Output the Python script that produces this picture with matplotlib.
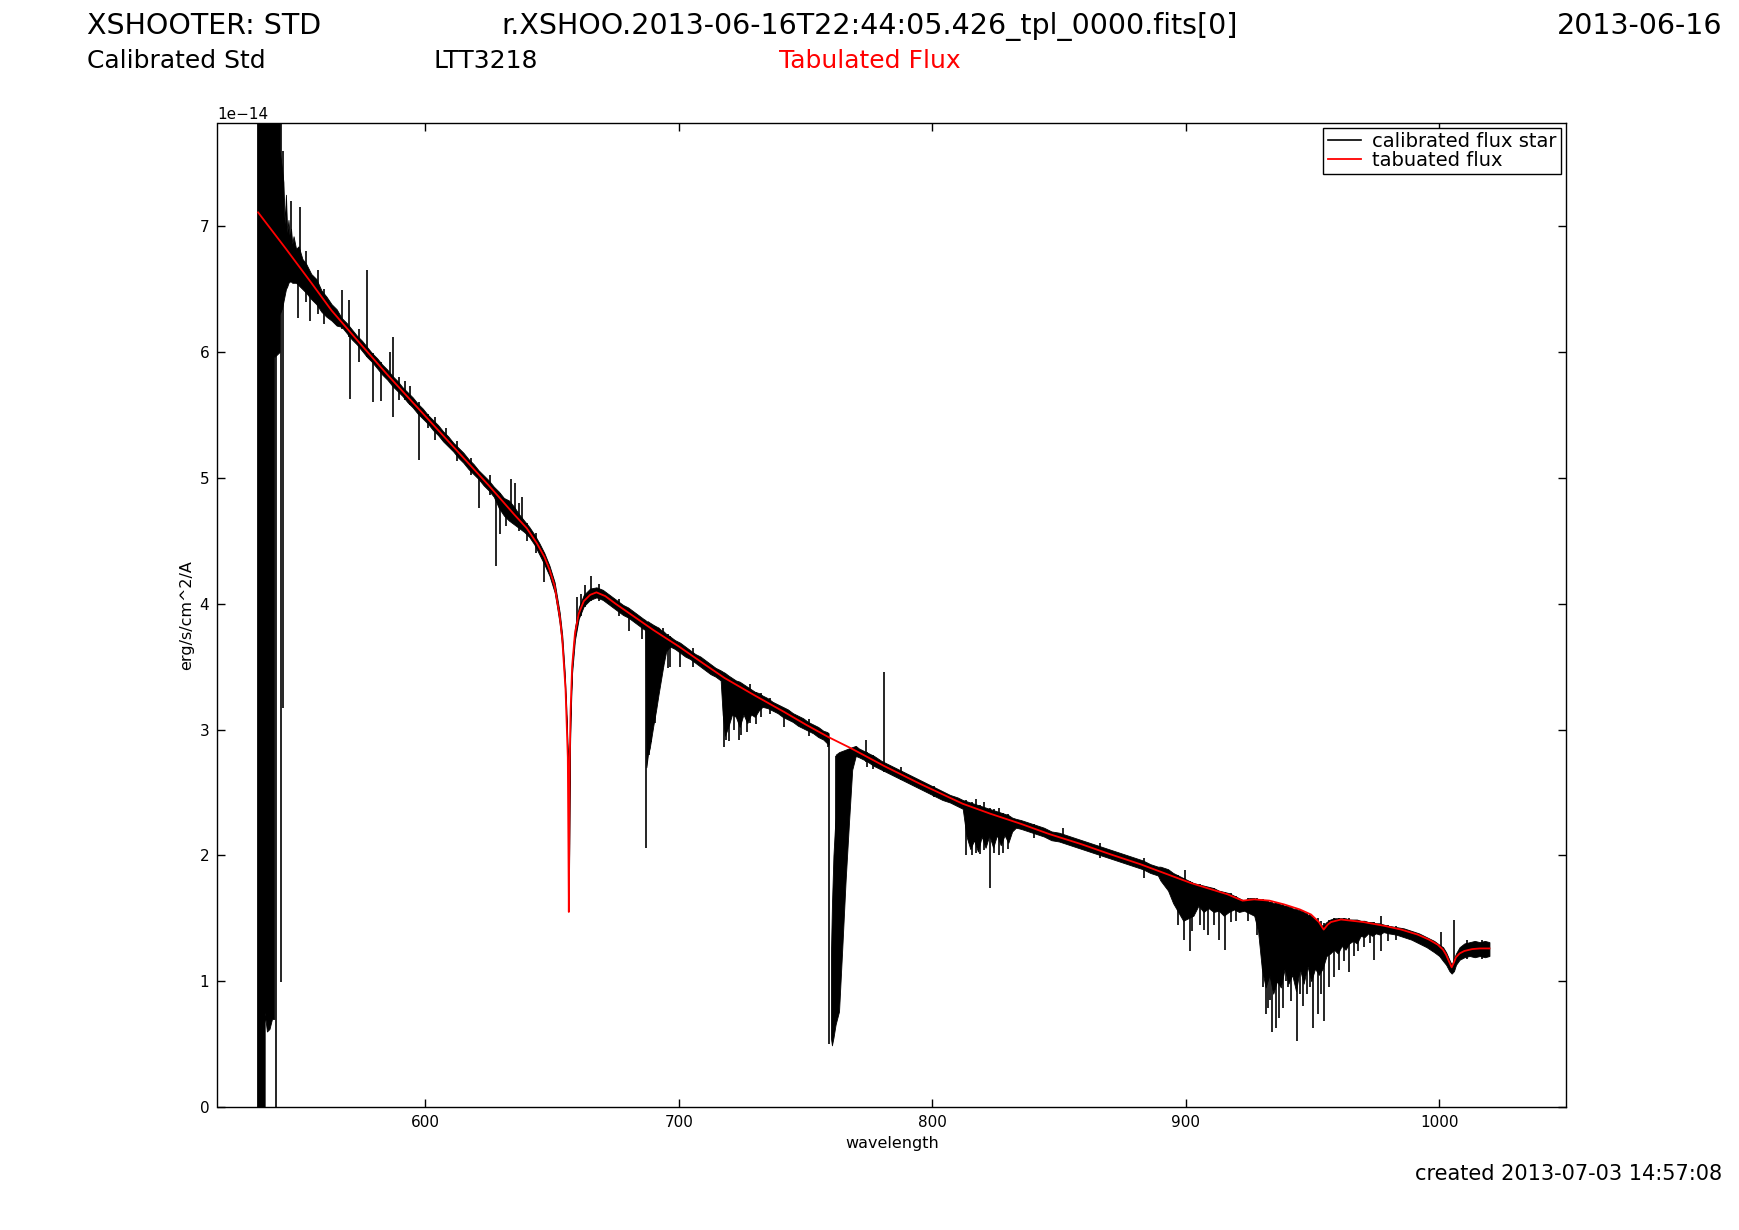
import numpy as np
import matplotlib
matplotlib.use('Agg')
import matplotlib.pyplot as plt
from matplotlib.ticker import MultipleLocator

# flux values are in units of 1e-14 erg/s/cm^2/A
SCALE = 1e-14

# tabulated (reference) flux of LTT3218
tab_wl = [534.0, 545, 555, 563, 575, 585, 600, 615, 625, 635,
          640, 644, 647, 649, 651, 652.0, 653.0, 654.0, 655.3, 656.2,
          656.45, 656.6, 656.75, 656.95, 657.3, 657.9, 659.0, 660.5, 662.5, 665.0,
          667.5, 671, 675, 680, 685, 690, 700, 710, 718, 730,
          741.5, 750, 759, 768, 781, 795, 812, 823, 835, 846,
          858.6, 870, 882, 890, 898, 902, 910, 916.5, 922.4, 927,
          933, 938.8, 945, 949.4, 952.5, 954.4, 956, 957.3, 961.2, 970,
          978.3, 985, 991.5, 996, 999.4, 1001.5, 1002.7, 1004, 1004.9, 1005.8,
          1006.6, 1008, 1009.9, 1013, 1016, 1019.8]
tab_flux = [7.11, 6.82, 6.55, 6.33, 6.05, 5.82, 5.49, 5.16, 4.94, 4.71,
            4.60, 4.48, 4.37, 4.27, 4.14, 4.02, 3.90, 3.72, 3.32, 2.78,
            2.05, 1.55, 2.05, 2.75, 3.15, 3.50, 3.76, 3.92, 4.02, 4.07,
            4.09, 4.06, 4.00, 3.93, 3.86, 3.79, 3.66, 3.52, 3.41, 3.27,
            3.14, 3.04, 2.94, 2.85, 2.71, 2.57, 2.41, 2.33, 2.25, 2.17,
            2.09, 2.01, 1.93, 1.87, 1.81, 1.78, 1.73, 1.69, 1.64, 1.65,
            1.64, 1.61, 1.57, 1.53, 1.47, 1.41, 1.45, 1.47, 1.49, 1.47,
            1.44, 1.41, 1.37, 1.33, 1.29, 1.25, 1.21, 1.15, 1.11, 1.15,
            1.19, 1.22, 1.24, 1.255, 1.26, 1.26]

# calibrated star spectrum: noise envelope (wavelength, low, high)
band_blue = [
    (533.6, -0.5, 9.0), (536.6, -0.5, 9.0), (536.62, 0.75, 9.0), (537.5, 0.60, 9.0),
    (538.5, 0.62, 9.0), (539.5, 0.70, 9.0), (540.4, 0.70, 9.0), (540.42, 5.96, 9.0),
    (542.5, 6.00, 9.0), (542.52, 6.30, 7.60), (543.5, 6.35, 7.45), (544.0, 6.40, 7.35),
    (544.5, 6.45, 7.02), (545.0, 6.50, 7.25), (545.5, 6.52, 6.95), (546.0, 6.55, 7.05),
    (546.5, 6.56, 6.90), (547.0, 6.56, 6.98), (547.5, 6.55, 6.86), (548.0, 6.55, 6.92),
    (549.0, 6.55, 6.82), (550.0, 6.53, 6.84), (551.5, 6.50, 6.74), (553.0, 6.47, 6.70),
    (555.0, 6.42, 6.62), (557.0, 6.38, 6.58), (559.0, 6.32, 6.49), (561.0, 6.28, 6.44),
    (563.0, 6.25, 6.38), (565.0, 6.21, 6.34), (567.0, 6.20, 6.27), (569.0, 6.15, 6.23),
    (571.0, 6.10, 6.18), (573.0, 6.06, 6.13), (575.0, 6.01, 6.09), (577.0, 5.96, 6.04),
    (579.0, 5.92, 5.99), (581.0, 5.87, 5.95), (583.0, 5.82, 5.90), (585.0, 5.78, 5.86),
    (587.0, 5.73, 5.81), (589.0, 5.69, 5.77), (591.0, 5.65, 5.72), (593.0, 5.60, 5.68),
    (595.0, 5.56, 5.64), (597.0, 5.51, 5.59), (599.0, 5.47, 5.55), (601.0, 5.43, 5.50),
    (603.0, 5.38, 5.46), (605.0, 5.34, 5.42), (607.0, 5.29, 5.37), (609.0, 5.25, 5.33),
    (611.0, 5.21, 5.28), (613.0, 5.16, 5.24), (615.0, 5.12, 5.20), (617.0, 5.07, 5.15),
    (619.0, 5.03, 5.11), (621.0, 4.99, 5.06), (623.0, 4.94, 5.02), (625.0, 4.90, 4.98),
    (627.0, 4.85, 4.93), (629.0, 4.76, 4.89), (631.0, 4.70, 4.84), (633.0, 4.66, 4.82),
    (635.0, 4.63, 4.77), (637.0, 4.60, 4.71), (639.0, 4.57, 4.66), (641.0, 4.53, 4.61),
    (643.0, 4.47, 4.55), (645.0, 4.39, 4.48), (647.0, 4.31, 4.40), (649.0, 4.22, 4.30),
    (651.0, 4.09, 4.17), (652.0, 3.97, 4.05), (653.0, 3.84, 3.93), (654.0, 3.66, 3.75),
    (655.0, 3.36, 3.45), (655.6, 3.09, 3.18), (656.2, 2.73, 2.82), (656.45, 2.02, 2.10),
    (656.6, 1.58, 1.68), (656.75, 2.02, 2.10), (656.95, 2.71, 2.80), (657.3, 3.10, 3.20),
    (657.9, 3.45, 3.54), (659.0, 3.71, 3.81), (660.5, 3.88, 3.97), (662.5, 3.98, 4.07),
    (665.0, 4.03, 4.12), (667.5, 4.05, 4.13), (670.0, 4.03, 4.11), (672.0, 4.00, 4.08),
    (674.0, 3.97, 4.05), (676.0, 3.94, 4.02), (678.0, 3.91, 3.99), (680.0, 3.89, 3.97),
    (682.0, 3.86, 3.94), (684.0, 3.83, 3.91), (686.0, 3.80, 3.88), (686.8, 3.79, 3.87),
    (687.2, 2.70, 3.86), (687.8, 2.80, 3.86), (688.5, 2.85, 3.85), (689.3, 2.95, 3.84),
    (690.1, 3.05, 3.83), (691.0, 3.15, 3.82), (692.0, 3.28, 3.81), (693.0, 3.40, 3.79),
    (694.0, 3.52, 3.78), (695.0, 3.62, 3.76), (696.5, 3.66, 3.74), (698.5, 3.64, 3.71),
    (700.5, 3.61, 3.69), (702.5, 3.58, 3.66), (704.5, 3.56, 3.63), (706.5, 3.53, 3.60),
    (708.5, 3.50, 3.58), (710.5, 3.47, 3.55), (712.5, 3.44, 3.52), (714.5, 3.42, 3.49),
    (716.5, 3.39, 3.47), (717.3, 3.12, 3.46), (718.2, 2.95, 3.45), (719.5, 3.02, 3.43),
    (721.0, 3.12, 3.41), (722.5, 3.10, 3.39), (724.0, 3.02, 3.38), (725.5, 3.12, 3.36),
    (727.0, 3.05, 3.34), (728.5, 3.12, 3.32), (730.0, 3.10, 3.30), (731.5, 3.15, 3.29),
    (733.0, 3.18, 3.27), (735.0, 3.17, 3.25), (737.0, 3.15, 3.22), (739.0, 3.13, 3.20),
    (741.0, 3.10, 3.18), (743.0, 3.08, 3.16), (745.0, 3.06, 3.13), (747.0, 3.03, 3.11),
    (749.0, 3.01, 3.09), (751.0, 2.99, 3.06), (753.0, 2.97, 3.04), (755.0, 2.94, 3.02),
    (757.0, 2.92, 2.99), (758.5, 2.89, 2.98), (759.1, 2.88, 2.97),
]

band_red = [
    (760.0, 0.55, 1.20), (760.4, 0.49, 1.60), (761.0, 0.55, 2.00), (761.8, 0.65, 2.30),
    (761.9, 0.66, 2.80), (763.2, 0.76, 2.82), (764.5, 1.27, 2.83), (765.8, 1.80, 2.84),
    (767.1, 2.25, 2.85), (768.4, 2.68, 2.86), (769.8, 2.79, 2.87), (771.0, 2.78, 2.85),
    (774.0, 2.75, 2.82), (777.0, 2.71, 2.79), (780.0, 2.68, 2.75), (783.0, 2.65, 2.72),
    (786.0, 2.62, 2.69), (789.0, 2.59, 2.66), (792.0, 2.56, 2.63), (795.0, 2.53, 2.60),
    (798.0, 2.50, 2.57), (801.0, 2.47, 2.54), (804.0, 2.44, 2.51), (807.0, 2.42, 2.48),
    (810.0, 2.39, 2.46), (812.0, 2.37, 2.44), (813.5, 2.15, 2.43), (815.0, 2.05, 2.42),
    (816.5, 2.12, 2.41), (818.0, 2.03, 2.40), (819.5, 2.15, 2.39), (821.0, 2.06, 2.38),
    (822.5, 2.16, 2.37), (824.0, 2.06, 2.36), (825.5, 2.16, 2.35), (827.0, 2.08, 2.34),
    (828.5, 2.16, 2.33), (830.0, 2.10, 2.32), (831.5, 2.19, 2.30), (833.0, 2.22, 2.29),
    (835.0, 2.21, 2.28), (838.0, 2.19, 2.26), (841.0, 2.17, 2.24), (844.0, 2.15, 2.22),
    (847.0, 2.12, 2.19), (850.0, 2.11, 2.18), (853.0, 2.09, 2.16), (856.0, 2.07, 2.14),
    (859.0, 2.05, 2.12), (862.0, 2.03, 2.10), (865.0, 2.01, 2.08), (868.0, 1.99, 2.06),
    (871.0, 1.97, 2.04), (874.0, 1.95, 2.02), (877.0, 1.93, 2.00), (880.0, 1.91, 1.98),
    (883.0, 1.89, 1.96), (886.0, 1.86, 1.93), (889.0, 1.84, 1.91), (890.0, 1.80, 1.91),
    (893.0, 1.72, 1.89), (895.0, 1.62, 1.86), (897.0, 1.55, 1.84), (899.0, 1.48, 1.82),
    (901.0, 1.50, 1.80), (903.0, 1.52, 1.78), (905.0, 1.60, 1.77), (907.0, 1.55, 1.76),
    (909.0, 1.58, 1.75), (911.0, 1.55, 1.74), (913.0, 1.56, 1.72), (915.0, 1.52, 1.71),
    (917.0, 1.55, 1.70), (919.0, 1.57, 1.68), (921.0, 1.55, 1.66), (923.0, 1.56, 1.64),
    (925.0, 1.54, 1.66), (927.0, 1.52, 1.66), (928.5, 1.40, 1.65), (930.0, 1.10, 1.65),
    (931.5, 0.95, 1.64), (933.0, 1.05, 1.63), (934.5, 0.90, 1.62), (936.0, 1.00, 1.62),
    (937.5, 0.95, 1.61), (939.0, 1.10, 1.60), (940.5, 0.98, 1.59), (942.0, 1.05, 1.58),
    (943.5, 0.92, 1.57), (945.0, 1.10, 1.56), (946.5, 0.98, 1.55), (948.0, 1.12, 1.53),
    (949.5, 1.00, 1.52), (951.0, 1.10, 1.50), (952.5, 1.05, 1.46), (954.0, 1.10, 1.44),
    (955.5, 1.20, 1.47), (957.0, 1.22, 1.49), (958.5, 1.25, 1.50), (960.0, 1.22, 1.50),
    (961.5, 1.28, 1.50), (963.0, 1.25, 1.50), (964.5, 1.30, 1.49), (966.0, 1.32, 1.49),
    (967.5, 1.30, 1.49), (969.0, 1.36, 1.48), (970.5, 1.35, 1.48), (972.0, 1.38, 1.47),
    (973.5, 1.36, 1.47), (975.0, 1.38, 1.46), (976.5, 1.37, 1.46), (978.0, 1.39, 1.45),
    (980.0, 1.38, 1.44), (983.0, 1.37, 1.43), (986.0, 1.35, 1.42), (989.0, 1.33, 1.40),
    (992.0, 1.30, 1.38), (995.0, 1.27, 1.35), (998.0, 1.23, 1.32), (1000.0, 1.20, 1.29),
    (1001.5, 1.16, 1.27), (1002.7, 1.13, 1.23), (1004.0, 1.08, 1.17), (1004.9, 1.06, 1.13),
    (1005.8, 1.08, 1.18), (1006.6, 1.13, 1.22), (1008.0, 1.17, 1.27), (1009.9, 1.19, 1.30),
    (1012.0, 1.20, 1.31), (1014.0, 1.19, 1.32), (1016.0, 1.20, 1.31), (1018.0, 1.19, 1.32),
    (1019.8, 1.20, 1.31),
]

# single spikes / absorption lines (wavelength, low, high)
spikes = [
    (541.0, -0.5, 9.0), (543.1, 0.99, 9.0), (543.8, 3.17, 7.60), (546.8, 6.60, 7.20),
    (549.7, 6.27, 6.75), (550.4, 6.60, 7.15), (552.8, 6.40, 6.80), (554.6, 6.25, 6.62),
    (557.5, 6.30, 6.65), (560.2, 6.22, 6.50), (567.1, 6.18, 6.49), (569.7, 6.12, 6.41),
    (570.4, 5.63, 6.18), (574.0, 5.92, 6.18), (577.0, 5.96, 6.65), (579.4, 5.60, 5.99),
    (582.5, 5.61, 5.92), (585.9, 5.80, 6.00), (587.3, 5.48, 6.12), (589.8, 5.62, 5.80),
    (592.1, 5.62, 5.77), (594.1, 5.58, 5.73), (597.4, 5.14, 5.60), (601.1, 5.40, 5.51),
    (604.0, 5.30, 5.48), (608.3, 5.28, 5.40), (612.5, 5.13, 5.29), (618.0, 5.02, 5.16),
    (621.0, 4.76, 5.05), (625.5, 4.86, 5.02), (628.0, 4.30, 4.88), (629.6, 4.55, 4.88),
    (632.0, 4.62, 4.82), (633.6, 4.70, 4.99), (635.4, 4.65, 4.96), (636.8, 4.58, 4.80),
    (638.3, 4.60, 4.85), (640.2, 4.50, 4.64), (643.5, 4.40, 4.56), (646.9, 4.17, 4.40),
    (659.8, 3.80, 4.05), (661.5, 3.90, 4.08), (663.0, 3.97, 4.15), (665.3, 4.02, 4.22),
    (668.5, 4.02, 4.16), (676.5, 3.90, 4.04), (680.2, 3.78, 3.96), (685.5, 3.72, 3.88),
    (686.9, 2.06, 3.83), (688.1, 2.80, 3.85), (689.0, 2.90, 3.84), (690.6, 3.05, 3.82),
    (693.8, 3.50, 3.81), (695.8, 3.49, 3.76), (696.6, 3.50, 3.74),
    (700.4, 3.50, 3.68), (705.5, 3.50, 3.65), (717.8, 2.86, 3.42), (718.6, 2.92, 3.41),
    (719.7, 2.91, 3.40), (721.8, 3.00, 3.38), (723.7, 2.92, 3.37), (724.4, 2.96, 3.36),
    (727.0, 2.98, 3.34), (728.0, 3.05, 3.36), (730.3, 3.04, 3.30), (732.5, 3.10, 3.29),
    (736.0, 3.12, 3.25), (741.5, 3.02, 3.16), (751.5, 2.95, 3.08), (758.9, 2.86, 2.97),
    (759.4, 0.50, 2.93), (761.9, 0.70, 2.79), (773.8, 2.74, 2.92), (774.3, 2.70, 2.82),
    (776.5, 2.69, 2.80), (781.0, 2.66, 3.46), (787.5, 2.60, 2.70), (800.5, 2.46, 2.55),
    (813.3, 2.00, 2.44), (815.5, 2.00, 2.42), (817.2, 2.02, 2.45), (819.0, 2.01, 2.40),
    (820.5, 2.04, 2.42), (822.8, 1.74, 2.38), (824.5, 2.02, 2.37), (826.3, 2.00, 2.38),
    (828.0, 2.02, 2.34), (830.0, 2.05, 2.33), (840.0, 2.14, 2.25), (851.5, 2.10, 2.22),
    (866.0, 1.98, 2.10), (883.5, 1.82, 1.98), (897.0, 1.45, 1.84), (899.1, 1.33, 1.82),
    (899.8, 1.60, 1.88), (901.6, 1.24, 1.80), (902.6, 1.40, 1.79), (905.5, 1.45, 1.77),
    (907.3, 1.41, 1.76), (908.8, 1.37, 1.75), (911.2, 1.45, 1.74), (913.2, 1.33, 1.72),
    (915.4, 1.25, 1.71), (917.8, 1.47, 1.70), (919.8, 1.48, 1.68), (924.5, 1.48, 1.66),
    (928.0, 1.37, 1.66), (930.6, 0.95, 1.65), (931.6, 0.74, 1.64), (932.3, 0.79, 1.64),
    (933.2, 0.85, 1.63), (934.2, 0.60, 1.63), (935.5, 0.63, 1.62), (936.9, 0.71, 1.62),
    (938.2, 0.79, 1.61), (939.5, 1.00, 1.60), (940.2, 0.95, 1.60), (941.5, 0.84, 1.59),
    (943.8, 0.525, 1.58), (945.2, 0.90, 1.57), (946.1, 0.80, 1.56), (948.0, 0.90, 1.54),
    (949.1, 0.95, 1.53), (950.0, 0.63, 1.52), (952.0, 0.74, 1.50), (953.2, 0.90, 1.48),
    (954.4, 0.684, 1.46), (956.6, 0.95, 1.49), (958.6, 1.03, 1.50), (960.5, 1.09, 1.50),
    (962.5, 1.16, 1.50), (964.5, 1.07, 1.50), (966.2, 1.20, 1.49), (967.8, 1.24, 1.49),
    (970.4, 1.27, 1.48), (972.5, 1.30, 1.47), (974.4, 1.17, 1.47), (977.0, 1.24, 1.52),
    (979.6, 1.32, 1.45), (983.0, 1.33, 1.44), (1000.7, 1.20, 1.39), (1005.7, 1.10, 1.49),
    (1011.0, 1.18, 1.33), (1017.0, 1.18, 1.33),
]

fig = plt.figure(figsize=(17.4, 12.3), dpi=100)
ax = fig.add_axes([0.125, 0.1, 0.775, 0.8])

# star spectrum
for band in (band_blue, band_red):
    wl, lo, hi = np.array(band).T
    ax.fill_between(wl, lo * SCALE, hi * SCALE, color='k', lw=0.6)
sw, slo, shi = np.array(spikes).T
ax.vlines(sw, slo * SCALE, shi * SCALE, color='k', lw=1.2)
ax.plot([], [], color='k', lw=1.2, label='calibrated flux star')

# tabulated flux
ax.plot(tab_wl, np.array(tab_flux) * SCALE, color='r', lw=1.3, label='tabuated flux')

ax.set_xlim(518, 1050)
ax.set_ylim(0, 7.82 * SCALE)
ax.xaxis.set_major_locator(MultipleLocator(100))
ax.set_yticks(np.arange(0, 8) * SCALE)
ax.tick_params(direction='in', top=True, right=True, length=6, width=1,
               labelsize=11, pad=6)
for sp in ax.spines.values():
    sp.set_linewidth(1.0)
ax.yaxis.get_offset_text().set_fontsize(11)
ax.set_xlabel('wavelength', fontsize=11.5)
ax.set_ylabel('erg/s/cm^2/A', fontsize=11.5)

leg = ax.legend(loc='upper right', fontsize=14, fancybox=False, framealpha=1,
                edgecolor='k', borderaxespad=0.25, handlelength=1.7,
                labelspacing=0.0, borderpad=0.22, handletextpad=0.6)
leg.get_frame().set_linewidth(1.0)

# header / footer
fig.text(0.05, 0.972, 'XSHOOTER: STD', fontsize=20.5)
fig.text(0.5, 0.972, 'r.XSHOO.2013-06-16T22:44:05.426_tpl_0000.fits[0]',
         ha='center', fontsize=20.5)
fig.text(0.99, 0.972, '2013-06-16', ha='right', fontsize=20.5)
fig.text(0.05, 0.945, 'Calibrated Std', fontsize=18)
fig.text(0.249, 0.945, 'LTT3218', fontsize=18)
fig.text(0.5, 0.945, 'Tabulated Flux', color='r', ha='center', fontsize=18)
fig.text(0.99, 0.041, 'created 2013-07-03 14:57:08', ha='right', fontsize=15)

fig.savefig('out.png', dpi=100)
